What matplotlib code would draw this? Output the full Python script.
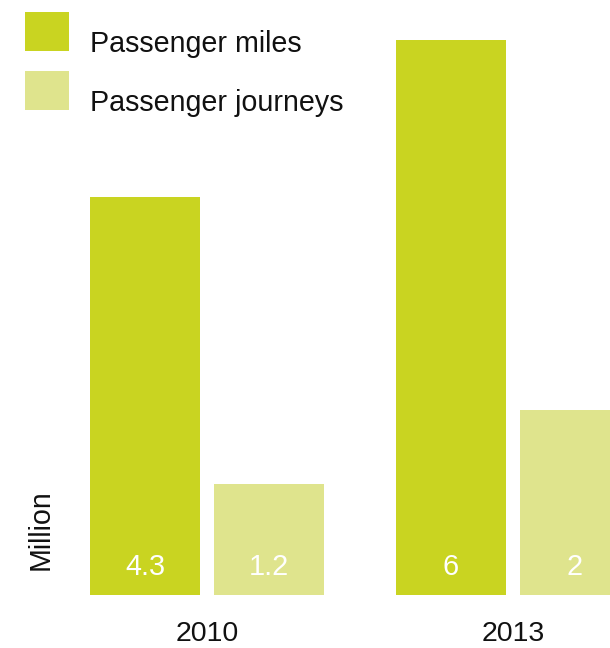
import matplotlib
matplotlib.use("Agg")
import matplotlib.pyplot as plt
from matplotlib.patches import Rectangle

plt.rcParams['font.family'] = ['Liberation Sans', 'DejaVu Sans']

years = ['2010', '2013']
series_names = ['Passenger miles', 'Passenger journeys']
miles = [4.3, 6]
journeys = [1.2, 2]
colors = ['#c9d421', '#dfe48d']

W, H = 610, 648
fig = plt.figure(figsize=(W / 100, H / 100), dpi=100)

def px(x, y):
    """Pixel position (from top-left) to figure fraction."""
    return x / W, 1 - y / H

ax = fig.add_axes([0, (H - 595) / H, 1, 595 / H])
ax.set_xlim(-207 / 306, (W - 207) / 306)
ax.set_ylim(0, 595 / 92.5)

width = 110 / 306
offset = 62 / 306
xs = list(range(len(years)))

for vals, off, col in [(miles, -offset, colors[0]), (journeys, offset, colors[1])]:
    pos = [x + off for x in xs]
    ax.bar(pos, vals, width=width, color=col, linewidth=0)
    for p, v in zip(pos, vals):
        ax.text(p, 0.30, f'{v:g}', ha='center', va='center',
                color='white', fontsize=20.8)

ax.set_xticks(xs)
ax.set_xticklabels(years, fontsize=20.5, color='#111111')
ax.tick_params(axis='x', length=0, pad=18.5)
ax.set_yticks([])
for s in ax.spines.values():
    s.set_visible(False)
ax.patch.set_visible(False)

# legend swatches and labels
for name, col, top in zip(series_names, colors, [12, 71]):
    x0, y0 = px(25, top + 39)
    fig.patches.append(Rectangle((x0, y0), 44 / W, 39 / H, transform=fig.transFigure,
                                 facecolor=col, edgecolor='none'))
    tx, ty = px(90, top + 40)
    fig.text(tx, ty, name, ha='left', va='baseline', fontsize=20.6, color='#111111')

mx, my = px(41, 530)
fig.text(mx, my, 'Million', rotation=90, ha='center', va='center',
         fontsize=20.6, color='#111111')

fig.savefig('out.png', dpi=100)
